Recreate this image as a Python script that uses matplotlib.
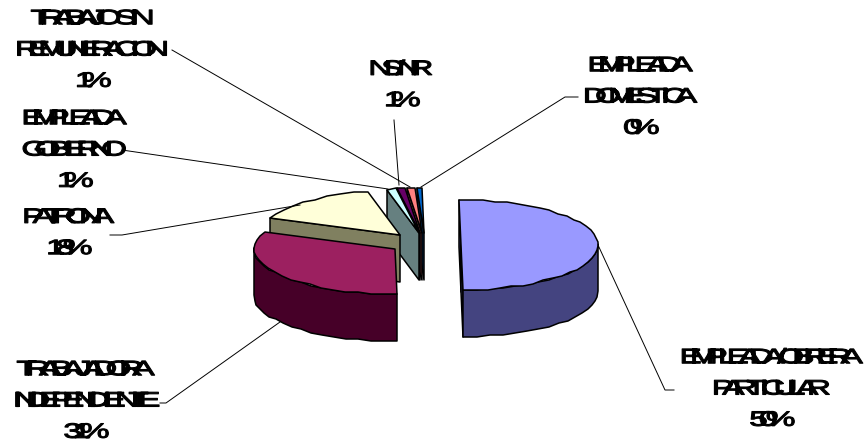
import numpy as np
import matplotlib
matplotlib.use("Agg")
import matplotlib.pyplot as plt
from matplotlib.path import Path
from matplotlib.patheffects import AbstractPathEffect

labels = ["EMPLEADA/OBRERA\nPARTICULAR\n50%", "TRABAJADORA\nINDEPENDIENTE\n31%", "PATRONA\n18%",
          "EMPLEADA\nGOBIERNO\n1%", "TRABAJO SIN\nREMUNERACION\n1%", "NS/NR\n1%", "EMPLEADA\nDOMESTICA\n0%"]
values = [50.0, 31.6, 15.0, 1.1, 0.9, 0.9, 0.5]
top_colors = ["#9999FF", "#9C2060", "#FFFFD9", "#CCFFFF", "#660066", "#FF8080", "#0066CC"]
side_colors = ["#444480", "#460028", "#808060", "#668080", "#330033", "#804040", "#003366"]

# pixel layout
centers = [(461, 245), (395, 249), (400, 235), (419, 233), (420, 233), (422, 233), (424, 233)]
radii = [137, 141, 141, 141, 141, 141, 141]
label_pos = [(771, 390), (85, 402), (68, 234), (74, 151), (92, 51), (401, 86), (640, 98)]
leaders = [[(674, 390), (665, 390), (598, 245)],
           [(160, 403), (166, 403), (280, 322)],
           [(110, 235), (122, 235), (300, 205)],
           [(122, 150), (388, 189)],
           [(172, 50), (410, 187)],
           [(394, 120), (399, 185)],
           [(578, 97), (565, 97), (421, 187)]]
start_angle = -1
ry, depth = 45, 47


class Tight(AbstractPathEffect):
    # stretches the glyphs and packs them so they overlap, same as the original
    def __init__(self, sx, sy, k, stroke):
        super().__init__()
        self.sx, self.sy, self.k, self.stroke = sx, sy, k, stroke

    def draw_path(self, renderer, gc, tpath, affine, rgbFace=None):
        v = tpath.vertices.copy()
        codes = tpath.codes
        ok = codes != Path.CLOSEPOLY
        mid = (v[ok, 0].min() + v[ok, 0].max()) / 2
        starts = list(np.flatnonzero(codes == Path.MOVETO)) + [len(v)]
        # subpaths that clearly overlap in x belong to one glyph (holes, the
        # parts of %), a small overlap is only kerning
        glyphs = []
        for a, b in zip(starts[:-1], starts[1:]):
            x = v[a:b][ok[a:b], 0]
            if glyphs:
                g = glyphs[-1]
                overlap = g[3] - x.min()
                if overlap > 0.15 * min(g[3] - g[2], np.ptp(x)):
                    g[1], g[2], g[3] = b, min(g[2], x.min()), max(g[3], x.max())
                    continue
            glyphs.append([a, b, x.min(), x.max()])
        v[:, 0] = mid + (v[:, 0] - mid) * self.sx
        v[:, 1] *= self.sy
        for a, b, x0, x1 in glyphs:
            v[a:b, 0] += ((x0 + x1) / 2 - mid) * (self.k - self.sx)
        gc0 = renderer.new_gc()
        gc0.copy_properties(gc)
        gc0.set_linewidth(self.stroke)
        gc0.set_foreground("black")
        renderer.draw_path(gc0, Path(v, codes), affine, rgbFace)
        gc0.restore()


def arc(cx, cy, rx, t1, t2):
    t = np.radians(np.linspace(t1, t2, max(int(abs(t2 - t1) / 5), 2)))
    return np.column_stack([np.round(cx + rx * np.sin(t)), np.round((cy - ry * np.cos(t)) / 2) * 2])


fig = plt.figure(figsize=(8.65, 4.41), dpi=100)
ax = fig.add_axes([0, 0, 1, 1])
ax.set_xlim(0, 865)
ax.set_ylim(441, 0)
ax.axis("off")

edges = start_angle + np.cumsum([0] + values) / sum(values) * 360
# far slices first so the near ones cover them
order = [6, 5, 4, 3, 2, 1, 0]
for z, i in enumerate(order):
    t1, t2 = edges[i], edges[i + 1]
    cx, cy = centers[i]
    rim = arc(cx, cy, radii[i], t1, t2)
    down = np.array([0, depth])
    kw = dict(edgecolor="black", linewidth=1.1, zorder=z + 2, joinstyle="round")
    apex = np.array([[cx, cy]])
    # cut faces, only the ones turned to the viewer
    for p, show in ((rim[0], np.sin(np.radians(t1)) < 0), (rim[-1], np.sin(np.radians(t2)) > 0)):
        if show:
            face = np.vstack([apex, [p], [p + down], apex + down])
            ax.fill(face[:, 0], face[:, 1], facecolor=side_colors[i], **kw)
    # outer wall, only the part that faces the viewer
    a, b = max(t1, 90), min(t2, 270)
    if b > a:
        wall = arc(cx, cy, radii[i], a, b)
        wall = np.vstack([wall, wall[::-1] + down])
        ax.fill(wall[:, 0], wall[:, 1], facecolor=side_colors[i], **kw)
    top = np.vstack([apex, rim])
    ax.fill(top[:, 0], top[:, 1], facecolor=top_colors[i], **kw)

for line in leaders:
    xs, ys = zip(*line)
    ax.plot(xs, ys, color="black", linewidth=0.7, zorder=20)

for text, (x, y) in zip(labels, label_pos):
    t = ax.text(x, y, text, ha="center", va="center", family="Liberation Sans", fontsize=13,
                linespacing=2.1, color="black", zorder=21)
    t.set_path_effects([Tight(1.85, 1.15, 0.96, 0.8)])

fig.savefig("out.png", dpi=100, facecolor="white")
